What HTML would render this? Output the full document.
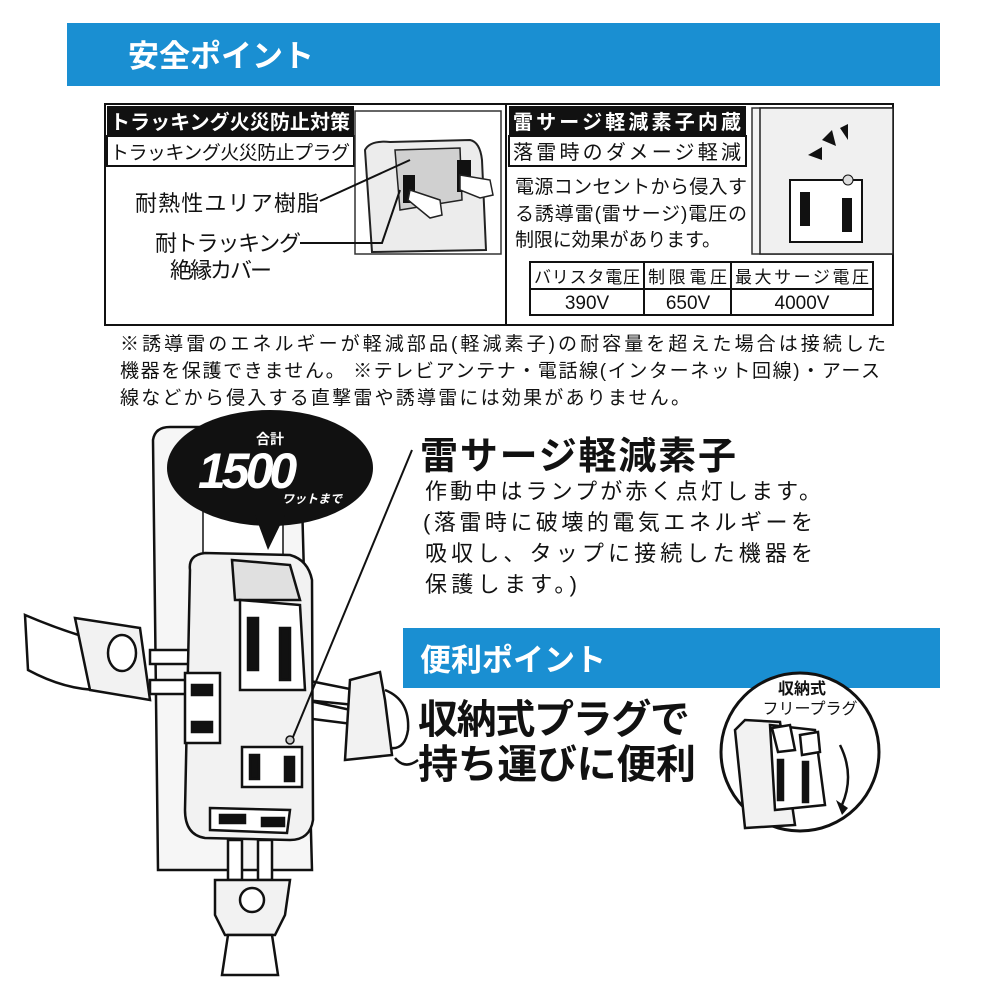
<!DOCTYPE html>
<html><head><meta charset="utf-8"><style>
html,body{margin:0;padding:0;background:#fff;}
svg{display:block}
text{font-family:"Liberation Sans","Noto Sans CJK JP",sans-serif;}
</style></head><body>
<svg width="1000" height="1000" viewBox="0 0 1000 1000" xmlns="http://www.w3.org/2000/svg">
<rect x="67" y="23" width="873" height="63" fill="#1a8fd2"/>
<text x="128" y="67" font-size="31" font-weight="bold" fill="#fff">安全ポイント</text>

<rect x="105" y="104" width="788" height="221" fill="#fff" stroke="#111" stroke-width="2"/>
<line x1="506" y1="104" x2="506" y2="325" stroke="#111" stroke-width="2"/>
<rect x="107" y="106" width="247" height="30" fill="#111"/>
<text x="110" y="129" font-size="20" font-weight="bold" fill="#fff" textLength="240">トラッキング火災防止対策</text>
<rect x="107" y="136" width="247" height="30" fill="#fff" stroke="#111" stroke-width="2"/>
<text x="110" y="159" font-size="19" font-family="Liberation Serif,Noto Serif CJK SC,serif" fill="#111" textLength="240">トラッキング火災防止プラグ</text>
<rect x="355" y="111" width="146" height="143" fill="#fff" stroke="#333" stroke-width="1.5"/>
<path d="M365 150 Q370 140 390 142 L470 140 Q480 142 482 160 L486 250 L372 252 Z" fill="#ececec" stroke="#222" stroke-width="2"/>
<path d="M395 150 L460 148 L462 200 L400 210 Z" fill="#d0d0d0" stroke="#222" stroke-width="1.5"/>
<rect x="403" y="175" width="12" height="28" fill="#111"/>
<rect x="457" y="160" width="14" height="32" fill="#111"/>
<path d="M410 190 L440 200 L442 215 L430 218 L408 200Z" fill="#fff" stroke="#222" stroke-width="1.5"/>
<path d="M460 175 L490 180 L493 195 L480 198 L460 190Z" fill="#fff" stroke="#222" stroke-width="1.5"/>
<line x1="320" y1="201" x2="410" y2="160" stroke="#111" stroke-width="2"/>
<polyline points="300,243 382,243 400,190" fill="none" stroke="#111" stroke-width="2"/>
<text x="135" y="211" font-size="22" fill="#111" textLength="184">耐熱性ユリア樹脂</text>
<text x="155" y="251" font-size="22" fill="#111" textLength="146">耐トラッキング</text>
<text x="170" y="278" font-size="22" fill="#111" textLength="102">絶縁カバー</text>

<rect x="509" y="106" width="237" height="30" fill="#111"/>
<text x="513" y="129" font-size="20" font-weight="bold" fill="#fff" textLength="228">雷サージ軽減素子内蔵</text>
<rect x="509" y="136" width="237" height="30" fill="#fff" stroke="#111" stroke-width="2"/>
<text x="513" y="159" font-size="20" font-family="Liberation Serif,Noto Serif CJK SC,serif" fill="#111" textLength="228">落雷時のダメージ軽減</text>
<rect x="752" y="108" width="140" height="146" fill="#f4f4f4" stroke="#333" stroke-width="1.5"/>
<rect x="760" y="108" width="133" height="146" fill="#f0f0f0" stroke="#222" stroke-width="1.5"/>
<rect x="790" y="180" width="72" height="62" fill="#fff" stroke="#111" stroke-width="2"/>
<rect x="800" y="192" width="10" height="34" fill="#111"/>
<rect x="842" y="198" width="10" height="34" fill="#111"/>
<circle cx="848" cy="180" r="5" fill="#ddd" stroke="#111"/>
<path d="M808 155 L822 147 L822 160 Z M822 140 L832 130 L836 146Z M840 128 L848 124 L848 140Z" fill="#111"/>
<text x="515" y="193" font-size="19" fill="#111" textLength="232">電源コンセントから侵入す</text>
<text x="515" y="220" font-size="19" fill="#111" textLength="232">る誘導雷(雷サージ)電圧の</text>
<text x="515" y="246" font-size="19" fill="#111" textLength="206">制限に効果があります。</text>
<rect x="530" y="262" width="343" height="53" fill="#fff" stroke="#111" stroke-width="2"/>
<line x1="530" y1="289" x2="873" y2="289" stroke="#111" stroke-width="2"/>
<line x1="644" y1="262" x2="644" y2="315" stroke="#111" stroke-width="2"/>
<line x1="731" y1="262" x2="731" y2="315" stroke="#111" stroke-width="2"/>
<text x="534" y="283" font-size="17" fill="#111" textLength="106">バリスタ電圧</text>
<text x="648" y="283" font-size="17" fill="#111" textLength="79">制限電圧</text>
<text x="735" y="283" font-size="17" fill="#111" textLength="134">最大サージ電圧</text>
<text x="587" y="309" font-size="19" text-anchor="middle" fill="#111">390V</text>
<text x="688" y="309" font-size="19" text-anchor="middle" fill="#111">650V</text>
<text x="802" y="309" font-size="19" text-anchor="middle" fill="#111">4000V</text>

<text x="120" y="350" font-size="19" fill="#111" textLength="766">※誘導雷のエネルギーが軽減部品(軽減素子)の耐容量を超えた場合は接続した</text>
<text x="120" y="377" font-size="19" fill="#111" textLength="760">機器を保護できません。 ※テレビアンテナ・電話線(インターネット回線)・アース</text>
<text x="120" y="404" font-size="19" fill="#111" textLength="570">線などから侵入する直撃雷や誘導雷には効果がありません。</text>

<g stroke="#111" stroke-width="2.5" fill="#fff">
<path d="M153 440 Q155 427 170 427 L300 427 L312 870 L158 870 Z" fill="#f6f6f6"/>
<rect x="203" y="505" width="80" height="60" fill="#fff" stroke-width="1.5"/>
<path d="M25 615 Q60 630 95 640 L100 690 Q65 690 28 670 Z" fill="#fff"/>
<path d="M75 618 L140 628 L150 700 L90 690 Z" fill="#f2f2f2"/>
<ellipse cx="122" cy="653" rx="14" ry="18"/>
<rect x="150" y="650" width="40" height="14"/>
<rect x="150" y="680" width="40" height="14"/>
<path d="M305 680 L355 690 L355 705 L305 700Z M305 700 L360 712 L360 725 L305 718 Z" fill="#fff"/>
<path d="M350 680 L380 672 L385 700 L392 755 L345 760 Z" fill="#f2f2f2"/>
<path d="M385 690 Q410 700 408 730 Q405 750 390 748" fill="none"/>
<path d="M395 758 Q405 770 418 760" fill="none"/>
<rect x="228" y="840" width="14" height="40"/>
<rect x="258" y="840" width="14" height="40"/>
<path d="M215 880 L290 880 L285 915 L275 935 L225 935 L215 915 Z" fill="#f2f2f2"/>
<circle cx="252" cy="900" r="12"/>
<path d="M228 935 L222 975 L278 975 L272 935 Z" fill="#fff"/>
<path d="M190 570 Q188 555 205 553 L290 555 Q308 560 312 580 L313 820 Q310 840 290 840 L205 838 Q185 835 185 810 Z" fill="#f2f2f2"/>
<path d="M232 560 L290 565 L300 600 L235 600 Z" fill="#e0e0e0"/>
<path d="M240 600 L300 605 L305 690 L240 690 Z" fill="#fff"/>
<rect x="248" y="618" width="10" height="52" fill="#111"/>
<rect x="280" y="628" width="10" height="52" fill="#111"/>
<rect x="185" y="673" width="35" height="70" fill="#fff"/>
<rect x="192" y="685" width="20" height="10" fill="#111"/>
<rect x="192" y="722" width="20" height="10" fill="#111"/>
<rect x="242" y="747" width="60" height="40" fill="#fff"/>
<rect x="250" y="755" width="9" height="24" fill="#111"/>
<rect x="285" y="757" width="9" height="24" fill="#111"/>
<path d="M210 808 L290 810 L287 833 L210 830 Z" fill="#fff"/>
<rect x="220" y="815" width="25" height="8" fill="#111"/>
<rect x="262" y="818" width="22" height="8" fill="#111"/>
<circle cx="290" cy="740" r="4" fill="#ccc" stroke-width="1.5"/>
</g>
<line x1="293" y1="737" x2="412" y2="450" stroke="#111" stroke-width="2"/>
<ellipse cx="270" cy="468" rx="103" ry="58" fill="#111"/>
<path d="M255 515 L285 515 L268 550 Z" fill="#111"/>
<text x="270" y="444" font-size="14" font-weight="bold" fill="#fff" text-anchor="middle">合計</text>
<text x="198" y="488" font-size="50" font-weight="bold" font-style="italic" font-family="Liberation Serif,serif" fill="#fff" letter-spacing="-4">1500</text>
<text x="282" y="503" font-size="12" font-weight="bold" font-style="italic" fill="#fff">ワットまで</text>

<text x="420" y="469" font-size="38" font-weight="bold" fill="#111" textLength="316">雷サージ軽減素子</text>
<text x="425" y="499" font-size="22" fill="#111" textLength="396">作動中はランプが赤く点灯します。</text>
<text x="423" y="530" font-size="22" fill="#111" textLength="390">(落雷時に破壊的電気エネルギーを</text>
<text x="425" y="561" font-size="22" fill="#111" textLength="388">吸収し、タップに接続した機器を</text>
<text x="425" y="592" font-size="22" fill="#111" textLength="152">保護します。)</text>

<rect x="403" y="628" width="537" height="60" fill="#1a8fd2"/>
<text x="420" y="671" font-size="31" font-weight="bold" fill="#fff">便利ポイント</text>

<text x="418" y="733" font-size="40" font-weight="bold" fill="#111" textLength="272">収納式プラグで</text>
<text x="418" y="778" font-size="40" font-weight="bold" fill="#111" textLength="278">持ち運びに便利</text>

<circle cx="800" cy="752" r="79" fill="#fff" stroke="#111" stroke-width="3"/>
<text x="802" y="694" font-size="16" font-weight="bold" fill="#111" text-anchor="middle">収納式</text>
<text x="810" y="714" font-size="16" fill="#111" text-anchor="middle">フリープラグ</text>
<g stroke="#111" stroke-width="2.5" fill="#fff">
<path d="M735 730 L745 720 L780 722 L795 825 L745 828 Z" fill="#f2f2f2"/>
<path d="M770 725 L815 730 L825 805 L775 810 Z"/>
<rect x="778" y="760" width="5" height="40" fill="#111"/>
<rect x="803" y="762" width="5" height="40" fill="#111"/>
<path d="M772 728 L790 725 L795 750 L778 752Z M800 735 L818 732 L820 752 L802 755Z"/>
<path d="M840 745 Q855 775 842 805" fill="none"/>
</g>
<path d="M836 800 L848 808 L842 815 Z" fill="#111"/>
</svg>
</body></html>
